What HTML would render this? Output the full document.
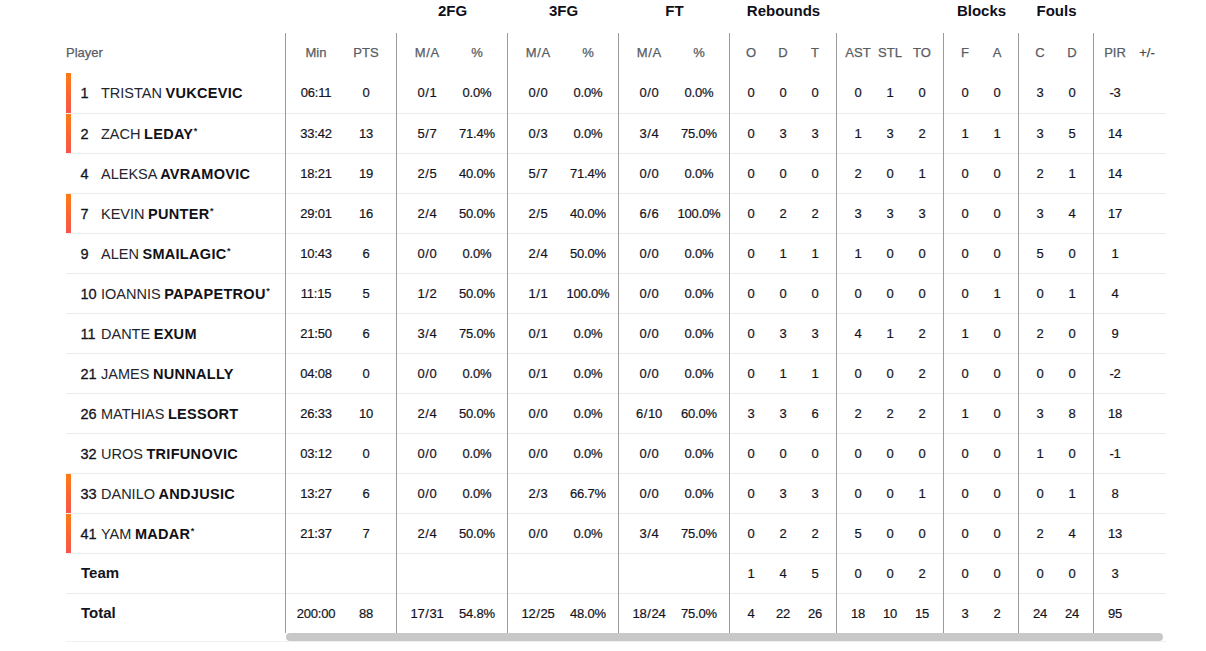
<!DOCTYPE html>
<html><head><meta charset="utf-8"><title>Box score</title>
<style>
html,body{margin:0;padding:0;background:#fff;}
body{width:1206px;height:651px;overflow:hidden;position:relative;font-family:"Liberation Sans",sans-serif;color:#14141e;}
.a{position:absolute;white-space:nowrap;}
.g{font-weight:bold;font-size:15px;line-height:20px;top:1px;color:#0f0f19;transform:translateX(-50%);}
.h{font-size:13px;line-height:16px;top:45px;color:#585d64;-webkit-text-stroke:0.25px #585d64;transform:translateX(-50%);}
.c{font-size:13px;line-height:16px;transform:translateX(-50%);color:#14141e;-webkit-text-stroke:0.2px #14141e;letter-spacing:-0.2px;}
.vl{position:absolute;z-index:3;width:1px;background:#9b9b9b;top:33px;height:600px;}
.rb{position:absolute;z-index:2;left:66px;width:1100px;height:1px;background:#ececec;}
.bar{position:absolute;left:66px;width:5px;height:40px;background:linear-gradient(#ff7b12,#f4554b);}
.num{font-size:14.5px;line-height:16px;left:80.5px;color:#14141e;-webkit-text-stroke:0.3px #14141e;}
.nm{font-size:14.5px;line-height:16px;left:101px;color:#24242c;letter-spacing:0px;word-spacing:-0.5px;}
.nm b{font-weight:bold;letter-spacing:0.3px;color:#111118;}
.nm sup{font-size:9px;line-height:9px;vertical-align:top;position:relative;top:1px;margin-left:0.5px;font-weight:bold;}
.tt{font-weight:bold;font-size:15px;line-height:16px;left:81px;color:#14141e;}
.sl{margin:0 0.7px;}
.sb{position:absolute;left:286px;top:633px;width:877px;height:8px;border-radius:4px;background:#c8c8c8;}
</style></head><body>

<div class="a g" style="left:452.5px">2FG</div>
<div class="a g" style="left:563.5px">3FG</div>
<div class="a g" style="left:674.5px">FT</div>
<div class="a g" style="left:783.5px">Rebounds</div>
<div class="a g" style="left:981.5px">Blocks</div>
<div class="a g" style="left:1056.5px">Fouls</div>
<div class="a h" style="left:66px;transform:none">Player</div>
<div class="a h" style="left:316px">Min</div>
<div class="a h" style="left:366px">PTS</div>
<div class="a h" style="left:427px">M<span class="sl">/</span>A</div>
<div class="a h" style="left:477px">%</div>
<div class="a h" style="left:538px">M<span class="sl">/</span>A</div>
<div class="a h" style="left:588px">%</div>
<div class="a h" style="left:649px">M<span class="sl">/</span>A</div>
<div class="a h" style="left:699px">%</div>
<div class="a h" style="left:751px">O</div>
<div class="a h" style="left:783px">D</div>
<div class="a h" style="left:815px">T</div>
<div class="a h" style="left:858px">AST</div>
<div class="a h" style="left:890px">STL</div>
<div class="a h" style="left:922px">TO</div>
<div class="a h" style="left:965px">F</div>
<div class="a h" style="left:997px">A</div>
<div class="a h" style="left:1040px">C</div>
<div class="a h" style="left:1072px">D</div>
<div class="a h" style="left:1115px">PIR</div>
<div class="a h" style="left:1147px;color:#3c3f46">+/-</div>
<div class="vl" style="left:285px"></div>
<div class="vl" style="left:396px"></div>
<div class="vl" style="left:507px"></div>
<div class="vl" style="left:618px"></div>
<div class="vl" style="left:729px"></div>
<div class="vl" style="left:836px"></div>
<div class="vl" style="left:943px"></div>
<div class="vl" style="left:1018px"></div>
<div class="vl" style="left:1093px"></div>
<div class="bar" style="top:73px"></div>
<div class="rb" style="top:113px"></div>
<div class="a num" style="top:85px">1</div>
<div class="a nm" style="top:85px">TRISTAN <b>VUKCEVIC</b></div>
<div class="a c" style="left:316px;top:85px">06:11</div>
<div class="a c" style="left:366px;top:85px">0</div>
<div class="a c" style="left:427px;top:85px">0<span class="sl">/</span>1</div>
<div class="a c" style="left:477px;top:85px">0.0%</div>
<div class="a c" style="left:538px;top:85px">0<span class="sl">/</span>0</div>
<div class="a c" style="left:588px;top:85px">0.0%</div>
<div class="a c" style="left:649px;top:85px">0<span class="sl">/</span>0</div>
<div class="a c" style="left:699px;top:85px">0.0%</div>
<div class="a c" style="left:751px;top:85px">0</div>
<div class="a c" style="left:783px;top:85px">0</div>
<div class="a c" style="left:815px;top:85px">0</div>
<div class="a c" style="left:858px;top:85px">0</div>
<div class="a c" style="left:890px;top:85px">1</div>
<div class="a c" style="left:922px;top:85px">0</div>
<div class="a c" style="left:965px;top:85px">0</div>
<div class="a c" style="left:997px;top:85px">0</div>
<div class="a c" style="left:1040px;top:85px">3</div>
<div class="a c" style="left:1072px;top:85px">0</div>
<div class="a c" style="left:1115px;top:85px">-3</div>
<div class="bar" style="top:113px"></div>
<div class="rb" style="top:153px"></div>
<div class="a num" style="top:126px">2</div>
<div class="a nm" style="top:126px">ZACH <b>LEDAY</b><sup>*</sup></div>
<div class="a c" style="left:316px;top:126px">33:42</div>
<div class="a c" style="left:366px;top:126px">13</div>
<div class="a c" style="left:427px;top:126px">5<span class="sl">/</span>7</div>
<div class="a c" style="left:477px;top:126px">71.4%</div>
<div class="a c" style="left:538px;top:126px">0<span class="sl">/</span>3</div>
<div class="a c" style="left:588px;top:126px">0.0%</div>
<div class="a c" style="left:649px;top:126px">3<span class="sl">/</span>4</div>
<div class="a c" style="left:699px;top:126px">75.0%</div>
<div class="a c" style="left:751px;top:126px">0</div>
<div class="a c" style="left:783px;top:126px">3</div>
<div class="a c" style="left:815px;top:126px">3</div>
<div class="a c" style="left:858px;top:126px">1</div>
<div class="a c" style="left:890px;top:126px">3</div>
<div class="a c" style="left:922px;top:126px">2</div>
<div class="a c" style="left:965px;top:126px">1</div>
<div class="a c" style="left:997px;top:126px">1</div>
<div class="a c" style="left:1040px;top:126px">3</div>
<div class="a c" style="left:1072px;top:126px">5</div>
<div class="a c" style="left:1115px;top:126px">14</div>
<div class="rb" style="top:193px"></div>
<div class="a num" style="top:166px">4</div>
<div class="a nm" style="top:166px">ALEKSA <b>AVRAMOVIC</b></div>
<div class="a c" style="left:316px;top:166px">18:21</div>
<div class="a c" style="left:366px;top:166px">19</div>
<div class="a c" style="left:427px;top:166px">2<span class="sl">/</span>5</div>
<div class="a c" style="left:477px;top:166px">40.0%</div>
<div class="a c" style="left:538px;top:166px">5<span class="sl">/</span>7</div>
<div class="a c" style="left:588px;top:166px">71.4%</div>
<div class="a c" style="left:649px;top:166px">0<span class="sl">/</span>0</div>
<div class="a c" style="left:699px;top:166px">0.0%</div>
<div class="a c" style="left:751px;top:166px">0</div>
<div class="a c" style="left:783px;top:166px">0</div>
<div class="a c" style="left:815px;top:166px">0</div>
<div class="a c" style="left:858px;top:166px">2</div>
<div class="a c" style="left:890px;top:166px">0</div>
<div class="a c" style="left:922px;top:166px">1</div>
<div class="a c" style="left:965px;top:166px">0</div>
<div class="a c" style="left:997px;top:166px">0</div>
<div class="a c" style="left:1040px;top:166px">2</div>
<div class="a c" style="left:1072px;top:166px">1</div>
<div class="a c" style="left:1115px;top:166px">14</div>
<div class="bar" style="top:193px"></div>
<div class="rb" style="top:233px"></div>
<div class="a num" style="top:206px">7</div>
<div class="a nm" style="top:206px">KEVIN <b>PUNTER</b><sup>*</sup></div>
<div class="a c" style="left:316px;top:206px">29:01</div>
<div class="a c" style="left:366px;top:206px">16</div>
<div class="a c" style="left:427px;top:206px">2<span class="sl">/</span>4</div>
<div class="a c" style="left:477px;top:206px">50.0%</div>
<div class="a c" style="left:538px;top:206px">2<span class="sl">/</span>5</div>
<div class="a c" style="left:588px;top:206px">40.0%</div>
<div class="a c" style="left:649px;top:206px">6<span class="sl">/</span>6</div>
<div class="a c" style="left:699px;top:206px">100.0%</div>
<div class="a c" style="left:751px;top:206px">0</div>
<div class="a c" style="left:783px;top:206px">2</div>
<div class="a c" style="left:815px;top:206px">2</div>
<div class="a c" style="left:858px;top:206px">3</div>
<div class="a c" style="left:890px;top:206px">3</div>
<div class="a c" style="left:922px;top:206px">3</div>
<div class="a c" style="left:965px;top:206px">0</div>
<div class="a c" style="left:997px;top:206px">0</div>
<div class="a c" style="left:1040px;top:206px">3</div>
<div class="a c" style="left:1072px;top:206px">4</div>
<div class="a c" style="left:1115px;top:206px">17</div>
<div class="rb" style="top:273px"></div>
<div class="a num" style="top:246px">9</div>
<div class="a nm" style="top:246px">ALEN <b>SMAILAGIC</b><sup>*</sup></div>
<div class="a c" style="left:316px;top:246px">10:43</div>
<div class="a c" style="left:366px;top:246px">6</div>
<div class="a c" style="left:427px;top:246px">0<span class="sl">/</span>0</div>
<div class="a c" style="left:477px;top:246px">0.0%</div>
<div class="a c" style="left:538px;top:246px">2<span class="sl">/</span>4</div>
<div class="a c" style="left:588px;top:246px">50.0%</div>
<div class="a c" style="left:649px;top:246px">0<span class="sl">/</span>0</div>
<div class="a c" style="left:699px;top:246px">0.0%</div>
<div class="a c" style="left:751px;top:246px">0</div>
<div class="a c" style="left:783px;top:246px">1</div>
<div class="a c" style="left:815px;top:246px">1</div>
<div class="a c" style="left:858px;top:246px">1</div>
<div class="a c" style="left:890px;top:246px">0</div>
<div class="a c" style="left:922px;top:246px">0</div>
<div class="a c" style="left:965px;top:246px">0</div>
<div class="a c" style="left:997px;top:246px">0</div>
<div class="a c" style="left:1040px;top:246px">5</div>
<div class="a c" style="left:1072px;top:246px">0</div>
<div class="a c" style="left:1115px;top:246px">1</div>
<div class="rb" style="top:313px"></div>
<div class="a num" style="top:286px">10</div>
<div class="a nm" style="top:286px">IOANNIS <b>PAPAPETROU</b><sup>*</sup></div>
<div class="a c" style="left:316px;top:286px">11:15</div>
<div class="a c" style="left:366px;top:286px">5</div>
<div class="a c" style="left:427px;top:286px">1<span class="sl">/</span>2</div>
<div class="a c" style="left:477px;top:286px">50.0%</div>
<div class="a c" style="left:538px;top:286px">1<span class="sl">/</span>1</div>
<div class="a c" style="left:588px;top:286px">100.0%</div>
<div class="a c" style="left:649px;top:286px">0<span class="sl">/</span>0</div>
<div class="a c" style="left:699px;top:286px">0.0%</div>
<div class="a c" style="left:751px;top:286px">0</div>
<div class="a c" style="left:783px;top:286px">0</div>
<div class="a c" style="left:815px;top:286px">0</div>
<div class="a c" style="left:858px;top:286px">0</div>
<div class="a c" style="left:890px;top:286px">0</div>
<div class="a c" style="left:922px;top:286px">0</div>
<div class="a c" style="left:965px;top:286px">0</div>
<div class="a c" style="left:997px;top:286px">1</div>
<div class="a c" style="left:1040px;top:286px">0</div>
<div class="a c" style="left:1072px;top:286px">1</div>
<div class="a c" style="left:1115px;top:286px">4</div>
<div class="rb" style="top:353px"></div>
<div class="a num" style="top:326px">11</div>
<div class="a nm" style="top:326px">DANTE <b>EXUM</b></div>
<div class="a c" style="left:316px;top:326px">21:50</div>
<div class="a c" style="left:366px;top:326px">6</div>
<div class="a c" style="left:427px;top:326px">3<span class="sl">/</span>4</div>
<div class="a c" style="left:477px;top:326px">75.0%</div>
<div class="a c" style="left:538px;top:326px">0<span class="sl">/</span>1</div>
<div class="a c" style="left:588px;top:326px">0.0%</div>
<div class="a c" style="left:649px;top:326px">0<span class="sl">/</span>0</div>
<div class="a c" style="left:699px;top:326px">0.0%</div>
<div class="a c" style="left:751px;top:326px">0</div>
<div class="a c" style="left:783px;top:326px">3</div>
<div class="a c" style="left:815px;top:326px">3</div>
<div class="a c" style="left:858px;top:326px">4</div>
<div class="a c" style="left:890px;top:326px">1</div>
<div class="a c" style="left:922px;top:326px">2</div>
<div class="a c" style="left:965px;top:326px">1</div>
<div class="a c" style="left:997px;top:326px">0</div>
<div class="a c" style="left:1040px;top:326px">2</div>
<div class="a c" style="left:1072px;top:326px">0</div>
<div class="a c" style="left:1115px;top:326px">9</div>
<div class="rb" style="top:393px"></div>
<div class="a num" style="top:366px">21</div>
<div class="a nm" style="top:366px">JAMES <b>NUNNALLY</b></div>
<div class="a c" style="left:316px;top:366px">04:08</div>
<div class="a c" style="left:366px;top:366px">0</div>
<div class="a c" style="left:427px;top:366px">0<span class="sl">/</span>0</div>
<div class="a c" style="left:477px;top:366px">0.0%</div>
<div class="a c" style="left:538px;top:366px">0<span class="sl">/</span>1</div>
<div class="a c" style="left:588px;top:366px">0.0%</div>
<div class="a c" style="left:649px;top:366px">0<span class="sl">/</span>0</div>
<div class="a c" style="left:699px;top:366px">0.0%</div>
<div class="a c" style="left:751px;top:366px">0</div>
<div class="a c" style="left:783px;top:366px">1</div>
<div class="a c" style="left:815px;top:366px">1</div>
<div class="a c" style="left:858px;top:366px">0</div>
<div class="a c" style="left:890px;top:366px">0</div>
<div class="a c" style="left:922px;top:366px">2</div>
<div class="a c" style="left:965px;top:366px">0</div>
<div class="a c" style="left:997px;top:366px">0</div>
<div class="a c" style="left:1040px;top:366px">0</div>
<div class="a c" style="left:1072px;top:366px">0</div>
<div class="a c" style="left:1115px;top:366px">-2</div>
<div class="rb" style="top:433px"></div>
<div class="a num" style="top:406px">26</div>
<div class="a nm" style="top:406px">MATHIAS <b>LESSORT</b></div>
<div class="a c" style="left:316px;top:406px">26:33</div>
<div class="a c" style="left:366px;top:406px">10</div>
<div class="a c" style="left:427px;top:406px">2<span class="sl">/</span>4</div>
<div class="a c" style="left:477px;top:406px">50.0%</div>
<div class="a c" style="left:538px;top:406px">0<span class="sl">/</span>0</div>
<div class="a c" style="left:588px;top:406px">0.0%</div>
<div class="a c" style="left:649px;top:406px">6<span class="sl">/</span>10</div>
<div class="a c" style="left:699px;top:406px">60.0%</div>
<div class="a c" style="left:751px;top:406px">3</div>
<div class="a c" style="left:783px;top:406px">3</div>
<div class="a c" style="left:815px;top:406px">6</div>
<div class="a c" style="left:858px;top:406px">2</div>
<div class="a c" style="left:890px;top:406px">2</div>
<div class="a c" style="left:922px;top:406px">2</div>
<div class="a c" style="left:965px;top:406px">1</div>
<div class="a c" style="left:997px;top:406px">0</div>
<div class="a c" style="left:1040px;top:406px">3</div>
<div class="a c" style="left:1072px;top:406px">8</div>
<div class="a c" style="left:1115px;top:406px">18</div>
<div class="rb" style="top:473px"></div>
<div class="a num" style="top:446px">32</div>
<div class="a nm" style="top:446px">UROS <b>TRIFUNOVIC</b></div>
<div class="a c" style="left:316px;top:446px">03:12</div>
<div class="a c" style="left:366px;top:446px">0</div>
<div class="a c" style="left:427px;top:446px">0<span class="sl">/</span>0</div>
<div class="a c" style="left:477px;top:446px">0.0%</div>
<div class="a c" style="left:538px;top:446px">0<span class="sl">/</span>0</div>
<div class="a c" style="left:588px;top:446px">0.0%</div>
<div class="a c" style="left:649px;top:446px">0<span class="sl">/</span>0</div>
<div class="a c" style="left:699px;top:446px">0.0%</div>
<div class="a c" style="left:751px;top:446px">0</div>
<div class="a c" style="left:783px;top:446px">0</div>
<div class="a c" style="left:815px;top:446px">0</div>
<div class="a c" style="left:858px;top:446px">0</div>
<div class="a c" style="left:890px;top:446px">0</div>
<div class="a c" style="left:922px;top:446px">0</div>
<div class="a c" style="left:965px;top:446px">0</div>
<div class="a c" style="left:997px;top:446px">0</div>
<div class="a c" style="left:1040px;top:446px">1</div>
<div class="a c" style="left:1072px;top:446px">0</div>
<div class="a c" style="left:1115px;top:446px">-1</div>
<div class="bar" style="top:473px"></div>
<div class="rb" style="top:513px"></div>
<div class="a num" style="top:486px">33</div>
<div class="a nm" style="top:486px">DANILO <b>ANDJUSIC</b></div>
<div class="a c" style="left:316px;top:486px">13:27</div>
<div class="a c" style="left:366px;top:486px">6</div>
<div class="a c" style="left:427px;top:486px">0<span class="sl">/</span>0</div>
<div class="a c" style="left:477px;top:486px">0.0%</div>
<div class="a c" style="left:538px;top:486px">2<span class="sl">/</span>3</div>
<div class="a c" style="left:588px;top:486px">66.7%</div>
<div class="a c" style="left:649px;top:486px">0<span class="sl">/</span>0</div>
<div class="a c" style="left:699px;top:486px">0.0%</div>
<div class="a c" style="left:751px;top:486px">0</div>
<div class="a c" style="left:783px;top:486px">3</div>
<div class="a c" style="left:815px;top:486px">3</div>
<div class="a c" style="left:858px;top:486px">0</div>
<div class="a c" style="left:890px;top:486px">0</div>
<div class="a c" style="left:922px;top:486px">1</div>
<div class="a c" style="left:965px;top:486px">0</div>
<div class="a c" style="left:997px;top:486px">0</div>
<div class="a c" style="left:1040px;top:486px">0</div>
<div class="a c" style="left:1072px;top:486px">1</div>
<div class="a c" style="left:1115px;top:486px">8</div>
<div class="bar" style="top:513px"></div>
<div class="rb" style="top:553px"></div>
<div class="a num" style="top:526px">41</div>
<div class="a nm" style="top:526px">YAM <b>MADAR</b><sup>*</sup></div>
<div class="a c" style="left:316px;top:526px">21:37</div>
<div class="a c" style="left:366px;top:526px">7</div>
<div class="a c" style="left:427px;top:526px">2<span class="sl">/</span>4</div>
<div class="a c" style="left:477px;top:526px">50.0%</div>
<div class="a c" style="left:538px;top:526px">0<span class="sl">/</span>0</div>
<div class="a c" style="left:588px;top:526px">0.0%</div>
<div class="a c" style="left:649px;top:526px">3<span class="sl">/</span>4</div>
<div class="a c" style="left:699px;top:526px">75.0%</div>
<div class="a c" style="left:751px;top:526px">0</div>
<div class="a c" style="left:783px;top:526px">2</div>
<div class="a c" style="left:815px;top:526px">2</div>
<div class="a c" style="left:858px;top:526px">5</div>
<div class="a c" style="left:890px;top:526px">0</div>
<div class="a c" style="left:922px;top:526px">0</div>
<div class="a c" style="left:965px;top:526px">0</div>
<div class="a c" style="left:997px;top:526px">0</div>
<div class="a c" style="left:1040px;top:526px">2</div>
<div class="a c" style="left:1072px;top:526px">4</div>
<div class="a c" style="left:1115px;top:526px">13</div>
<div class="rb" style="top:593px"></div>
<div class="a tt" style="top:565px">Team</div>
<div class="a c" style="left:751px;top:566px">1</div>
<div class="a c" style="left:783px;top:566px">4</div>
<div class="a c" style="left:815px;top:566px">5</div>
<div class="a c" style="left:858px;top:566px">0</div>
<div class="a c" style="left:890px;top:566px">0</div>
<div class="a c" style="left:922px;top:566px">2</div>
<div class="a c" style="left:965px;top:566px">0</div>
<div class="a c" style="left:997px;top:566px">0</div>
<div class="a c" style="left:1040px;top:566px">0</div>
<div class="a c" style="left:1072px;top:566px">0</div>
<div class="a c" style="left:1115px;top:566px">3</div>
<div class="a tt" style="top:605px">Total</div>
<div class="a c" style="left:316px;top:606px">200:00</div>
<div class="a c" style="left:366px;top:606px">88</div>
<div class="a c" style="left:427px;top:606px">17<span class="sl">/</span>31</div>
<div class="a c" style="left:477px;top:606px">54.8%</div>
<div class="a c" style="left:538px;top:606px">12<span class="sl">/</span>25</div>
<div class="a c" style="left:588px;top:606px">48.0%</div>
<div class="a c" style="left:649px;top:606px">18<span class="sl">/</span>24</div>
<div class="a c" style="left:699px;top:606px">75.0%</div>
<div class="a c" style="left:751px;top:606px">4</div>
<div class="a c" style="left:783px;top:606px">22</div>
<div class="a c" style="left:815px;top:606px">26</div>
<div class="a c" style="left:858px;top:606px">18</div>
<div class="a c" style="left:890px;top:606px">10</div>
<div class="a c" style="left:922px;top:606px">15</div>
<div class="a c" style="left:965px;top:606px">3</div>
<div class="a c" style="left:997px;top:606px">2</div>
<div class="a c" style="left:1040px;top:606px">24</div>
<div class="a c" style="left:1072px;top:606px">24</div>
<div class="a c" style="left:1115px;top:606px">95</div>
<div class="rb" style="top:641px;background:#f0f0f0"></div>
<div class="sb"></div>
</body></html>
